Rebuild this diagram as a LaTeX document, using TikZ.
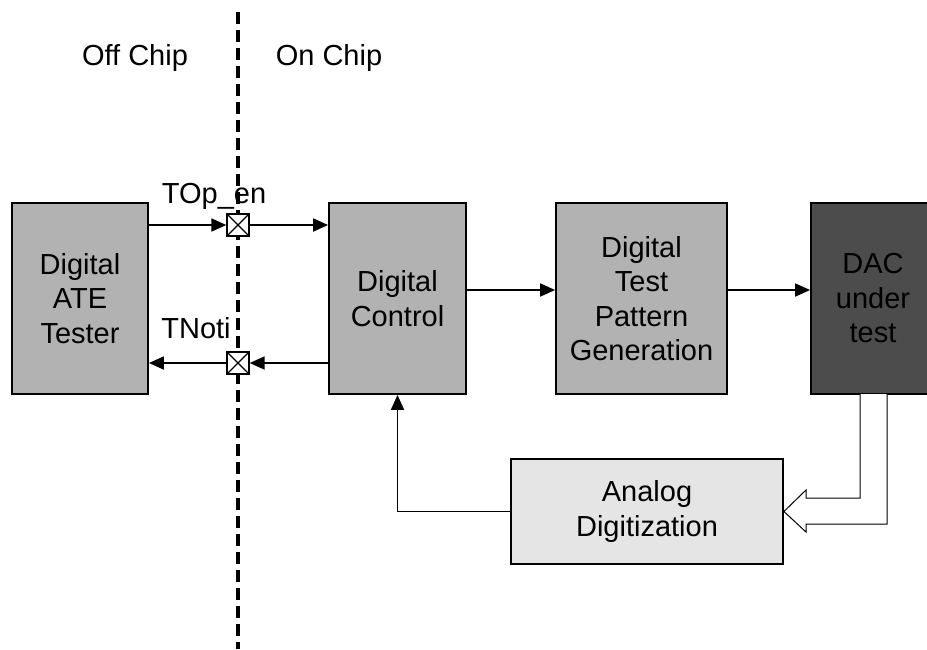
\documentclass[tikz,border=0pt]{standalone}
\usepackage{fontspec}
\setmainfont{Liberation Sans}
\usetikzlibrary{arrows.meta}
\begin{document}
\begin{tikzpicture}[x=1pt,y=-1pt,
  font=\fontsize{29}{34.5}\selectfont,
  block/.style={draw=black, line width=1.8pt, inner sep=0pt, align=center, minimum height=191},
  midgray/.style={fill=black!30},
  darkgray/.style={fill=black!70},
  lightgray/.style={fill=black!10},
  wire/.style={line width=1.8pt, -{Triangle[length=15pt,width=13pt]}},
  pad/.style={draw=black, line width=1.3pt, fill=white, minimum size=22, inner sep=0pt,
    path picture={\draw[line width=1.1pt] (path picture bounding box.north west) -- (path picture bounding box.south east)
                    (path picture bounding box.north east) -- (path picture bounding box.south west);}},
  lbl/.style={anchor=base, inner sep=0pt}
]
\useasboundingbox (0,0) rectangle (927,649);
\begin{scope}
\clip (0,0) rectangle (927,649);

% blocks
\node[block, midgray, minimum width=136] (ate) at (80,298.5) {Digital\\ATE\\Tester};
\node[block, midgray, minimum width=137] (dc) at (397.5,298.5) {Digital\\Control};
\node[block, midgray, minimum width=171] (tpg) at (641.5,298.5) {Digital\\Test\\Pattern\\Generation};
\node[block, darkgray, minimum width=124] (dac) at (873,298.5) {DAC\\under\\test};
\node[block, lightgray, minimum width=272, minimum height=105] (adc) at (647,511.5) {Analog\\Digitization};

% region labels
\node[lbl] (off) at (135,65) {Off Chip};
\node[lbl] (on) at (329,65) {On Chip};
\node[lbl] (topen) at (214,203) {TOp\_en};
\node[lbl] (tnoti) at (196,338) {TNoti};

% chip boundary
\coordinate (btop) at (238,12);
\coordinate (bbot) at (238,649);
\draw[line width=3.3pt, dash pattern=on 12pt off 6pt] (btop) -- (bbot);

% pads on the boundary
\node[pad] (p1) at (238,225) {};
\node[pad] (p2) at (238,363) {};

% signal wires
\draw[wire] (ate.east |- p1) -- (p1.west);
\draw[wire] (p1.east) -- (dc.west |- p1);
\draw[wire] (dc.west |- p2) -- (p2.east);
\draw[wire] (p2.west) -- (ate.east |- p2);

\coordinate (row) at (0,290);
\draw[wire] (dc.east |- row) -- (tpg.west |- row);
\draw[wire] (tpg.east |- row) -- (dac.west |- row);
\draw[wire] (adc.west) -| (dc.south);

% wide analog output arrow
\draw[line width=1pt, fill=white]
  (860,394) -- (860,498) -- (806,498) -- (806,490) -- (adc.east) -- (806,532) -- (806,524) -- (887,524) -- (887,394);
\end{scope}
\end{tikzpicture}
\end{document}
